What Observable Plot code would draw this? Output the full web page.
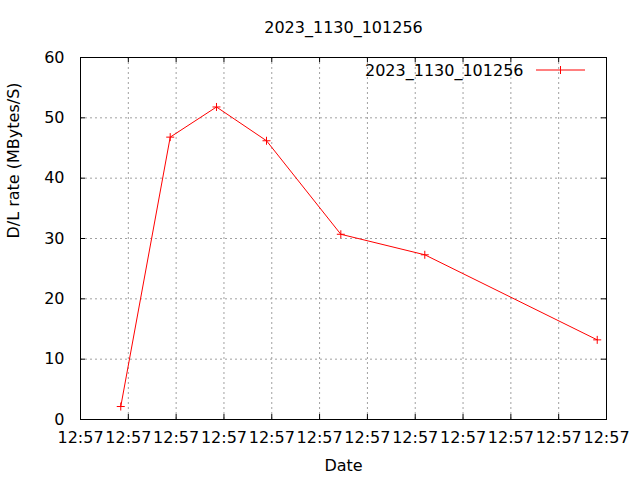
<!DOCTYPE html>
<html>
<head>
<meta charset="utf-8">
<script src="https://cdn.jsdelivr.net/npm/d3@7"></script>
<script src="https://cdn.jsdelivr.net/npm/@observablehq/plot@0.6"></script>
<style>
  html, body { margin: 0; padding: 0; background: white; }
</style>
</head>
<body>
<div id="chart"></div>
<script>
// Data (seconds after 12:57:00, rate in MBytes/S)
const seconds = [4.21, 9.38, 14.22, 19.45, 27.22, 36.0, 54.03];
const rates = [2.15, 46.8, 51.8, 46.2, 30.7, 27.3, 13.2];
const seriesName = "2023_1130_101256";
const titleText = "2023_1130_101256";
const xLabel = "Date";
const yLabel = "D/L rate (MBytes/S)";
const xTickSeconds = [0, 5, 10, 15, 20, 25, 30, 35, 40, 45, 50, 55];
const yTicks = [0, 10, 20, 30, 40, 50, 60];

const base = Date.UTC(2023, 10, 30, 12, 57, 0);
const toDate = s => new Date(base + s * 1000);
const data = seconds.map((s, i) => ({ t: toDate(s), v: rates[i] }));
const xTicks = xTickSeconds.map(toDate);

const plusSymbol = {
  draw(ctx, size) {
    const r = Math.sqrt(size / Math.PI);
    ctx.moveTo(-r, 0); ctx.lineTo(r, 0);
    ctx.moveTo(0, -r); ctx.lineTo(0, r);
  }
};

const W = 640, H = 480, mL = 80, mR = 34, mT = 57, mB = 61;
const fw = W - mL - mR, fh = H - mT - mB, tl = 5;

const chart = Plot.plot({
  width: W, height: H,
  marginLeft: mL, marginRight: mR, marginTop: mT, marginBottom: mB,
  style: { fontFamily: "DejaVu Sans", fontSize: "16px", background: "white", color: "black" },
  x: { type: "utc", domain: [xTicks[0], xTicks[xTicks.length - 1]] },
  y: { domain: [0, 60] },
  marks: [
    Plot.gridX({ ticks: xTicks, stroke: "#a0a0a0", strokeOpacity: 1, strokeDasharray: "2,3" }),
    Plot.gridY({ ticks: yTicks, stroke: "#a0a0a0", strokeOpacity: 1, strokeDasharray: "2,3" }),
    Plot.frame({ stroke: "black" }),
    Plot.ruleX(xTicks, { x: d => d, insetTop: fh - tl, stroke: "black" }),
    Plot.ruleX(xTicks, { x: d => d, insetBottom: fh - tl, stroke: "black" }),
    Plot.ruleY(yTicks, { y: d => d, insetRight: fw - tl, stroke: "black" }),
    Plot.ruleY(yTicks, { y: d => d, insetLeft: fw - tl, stroke: "black" }),
    Plot.axisX({ ticks: xTicks, tickSize: 0, tickPadding: 12, tickFormat: d3.utcFormat("%H:%M"), label: null, fontSize: 16 }),
    Plot.axisY({ ticks: yTicks, tickSize: 0, tickPadding: 16, label: null, fontSize: 16 }),
    Plot.line(data, { x: "t", y: "v", stroke: "#ff0000", strokeWidth: 1 }),
    Plot.dot(data, { x: "t", y: "v", symbol: plusSymbol, r: 4, stroke: "#ff0000", strokeWidth: 1, fill: "none" }),
    Plot.text([titleText], { text: d => d, frameAnchor: "top", lineAnchor: "middle", dy: -30, fontSize: 16, fill: "black" }),
    Plot.text([xLabel], { text: d => d, frameAnchor: "bottom", lineAnchor: "middle", dy: 46, fontSize: 16, fill: "black" }),
    Plot.text([yLabel], { text: d => d, frameAnchor: "left", lineAnchor: "middle", dx: -67, rotate: -90, fontSize: 16, fill: "black" }),
    Plot.text([seriesName], { text: d => d, frameAnchor: "top-right", lineAnchor: "middle", dx: -83, dy: 13, textAnchor: "end", fontSize: 16, fill: "black" })
  ]
});

// Legend sample (line + marker)
const svg = d3.select(chart);
const lg = svg.append("g").attr("stroke", "#ff0000").attr("stroke-width", 1).attr("fill", "none");
const ly = mT + 13, lx1 = W - mR - 70, lx2 = W - mR - 21, lxm = (lx1 + lx2) / 2;
lg.append("line").attr("x1", lx1).attr("x2", lx2).attr("y1", ly).attr("y2", ly);
lg.append("line").attr("x1", lxm).attr("x2", lxm).attr("y1", ly - 4).attr("y2", ly + 4);

document.getElementById("chart").appendChild(chart);
</script>
</body>
</html>
